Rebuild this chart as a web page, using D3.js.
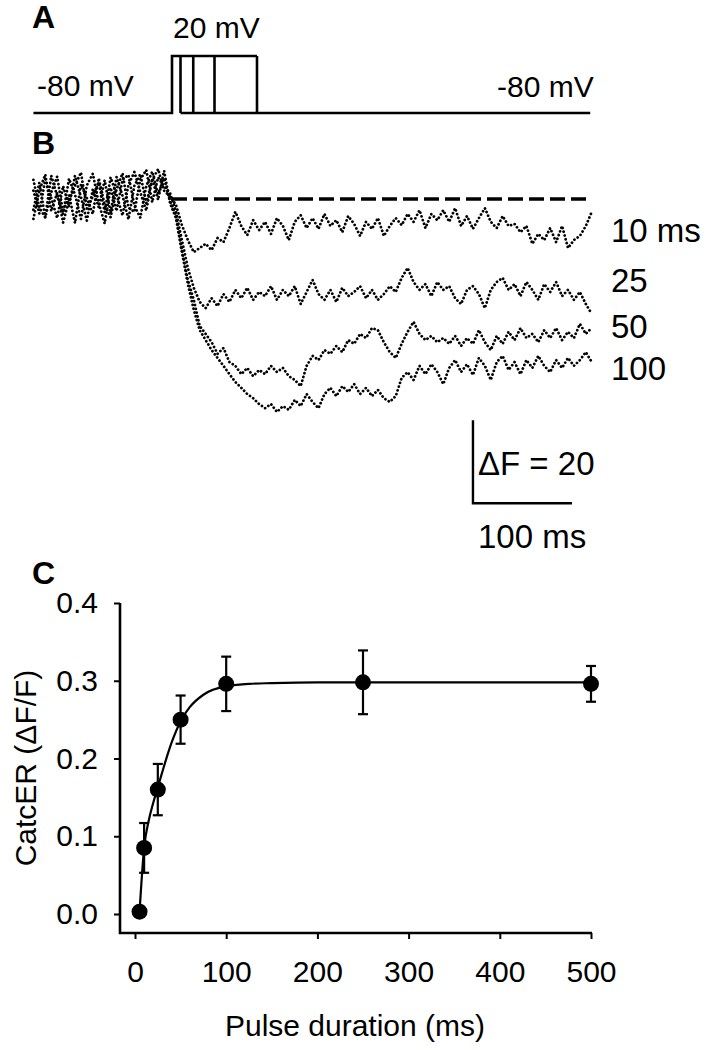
<!DOCTYPE html>
<html><head><meta charset="utf-8">
<script src="https://cdn.jsdelivr.net/npm/d3@7"></script>
<style>
body{margin:0;background:#fff}
svg{display:block}
text{font-family:"Liberation Sans",Arial,Helvetica,sans-serif;fill:#000}
</style>
</head><body>
<svg id="chart" width="715" height="1050"></svg>
<script>
// ---------------- DATA ----------------
// Panel A: voltage protocol
const holdingPotential = -80;
const testPotential = 20;
const pulseDurations = [10, 25, 50, 100];           // ms
const protocolExtent = [-163, 492];                 // ms shown
const holdingLabel = "-80 mV";
const testLabel = "20 mV";

// Panel B: CatchER fluorescence traces (ΔF), sampled times (ms from pulse onset)
const traceTimes = [-140,-134,-128,-122,-116,-110,-104,-98,-92,-86,-80,-74,-68,-62,-56,-50,-44,-38,-32,-26,-20,-14,-8,-2,
  4,10,16,22,28,34,40,46,52,58,64,70,76,82,88,94,100,106,112,118,124,130,136,142,148,154,160,166,172,178,184,190,196,
  202,208,214,220,226,232,238,244,250,256,262,268,274,280,286,292,298,304,310,316,322,328,334,340,346,352,358,364,370,
  376,382,388,394,400,406,412,418,424];
const trace10 = [2.0,-3.5,4.8,0.3,-4.6,3.1,-1.8,5.6,0.5,-5.2,2.4,-2.0,4.5,-3.4,5.3,0.8,-4.9,3.2,6.0,-1.0,4.6,7.2,2.0,0.6,
  -1.4,-6.3,-9.9,-12.8,-11.8,-10.8,-12.3,-9.4,-10.4,-7.0,-3.1,-6.5,-8.7,-5.1,-7.5,-5.5,-8.4,-4.6,-6.5,-9.9,-5.5,-3.9,-7.0,
  -4.6,-7.2,-3.6,-6.5,-5.1,-8.0,-4.1,-6.0,-8.9,-5.5,-7.2,-4.6,-8.9,-6.5,-4.6,-6.3,-3.6,-5.5,-2.7,-7.0,-3.6,-5.1,-2.7,-5.5,
  -2.2,-6.5,-4.1,-7.2,-4.6,-2.2,-5.5,-7.0,-4.1,-6.5,-6.0,-8.0,-6.5,-10.8,-8.4,-9.9,-7.0,-10.4,-6.5,-11.8,-9.9,-8.9,-6.5,-3.1];
const trace25 = [-2.6,3.9,-4.5,1.6,5.4,-3.2,0.9,-5.8,3.5,0.2,-3.6,5.0,-1.4,-4.4,2.3,6.2,-2.1,-3.1,4.7,7.0,-0.8,5.2,3.0,1.5,
  -3.1,-9.9,-16.6,-21.4,-24.8,-26.3,-23.9,-25.8,-22.9,-24.8,-21.9,-23.9,-21.4,-24.3,-22.4,-23.4,-21.0,-24.3,-21.9,-23.4,
  -21.0,-25.3,-22.4,-19.5,-22.9,-24.3,-21.9,-24.8,-21.4,-23.4,-22.4,-21.0,-23.9,-21.9,-24.3,-22.9,-21.0,-22.4,-19.0,-16.6,
  -20.0,-21.9,-20.5,-23.4,-20.0,-21.9,-21.0,-23.9,-25.3,-21.9,-21.0,-22.9,-26.3,-21.9,-20.0,-19.0,-21.9,-20.5,-23.4,-20.0,
  -21.9,-24.3,-20.5,-22.4,-20.0,-23.4,-21.9,-24.3,-22.4,-25.3,-27.7];
const trace50 = [4.6,-2.1,-4.4,5.6,0.7,-3.6,4.9,1.1,-4.8,3.3,6.1,-1.0,-5.9,2.7,-2.9,4.6,5.8,-1.6,-4.5,3.1,6.6,1.2,5.0,-0.5,
  -3.9,-12.3,-19.5,-24.3,-30.6,-32.5,-34.5,-37.3,-35.9,-39.3,-40.2,-42.2,-40.7,-42.7,-41.2,-42.2,-40.2,-41.7,-40.7,-42.7,
  -43.6,-45.1,-40.2,-37.8,-38.8,-36.4,-37.3,-35.4,-36.9,-34.0,-34.9,-32.5,-33.5,-31.1,-31.6,-34.5,-36.9,-38.3,-34.9,-32.0,
  -29.6,-32.5,-34.0,-33.0,-34.5,-33.5,-34.9,-33.0,-35.4,-33.5,-34.9,-31.6,-34.5,-36.4,-33.0,-34.9,-32.0,-34.0,-31.1,-33.5,
  -32.5,-34.5,-31.6,-33.5,-31.1,-34.0,-32.0,-33.5,-30.1,-32.5,-31.1];
const trace100 = [-4.8,2.0,5.9,-2.9,1.5,-5.7,-0.3,3.2,6.4,-2.3,0.6,4.0,-3.2,5.2,1.1,-4.0,3.4,6.5,1.6,-2.8,4.9,-0.2,6.8,-1.0,
  -4.6,-12.8,-20.5,-26.7,-31.6,-34.0,-36.4,-38.3,-40.2,-42.2,-44.1,-45.5,-47.0,-48.0,-49.4,-50.4,-49.4,-51.3,-49.9,-50.8,
  -48.4,-49.9,-47.0,-48.9,-50.4,-47.0,-45.5,-47.5,-45.1,-46.5,-44.6,-47.0,-45.5,-47.5,-46.0,-48.0,-48.9,-47.5,-43.1,-41.7,
  -43.6,-40.2,-42.2,-39.8,-41.7,-44.6,-40.7,-38.8,-41.7,-39.8,-42.4,-38.3,-40.2,-43.6,-39.3,-37.8,-41.2,-39.3,-42.2,-38.8,
  -40.7,-37.8,-40.2,-41.7,-38.8,-40.7,-38.3,-40.2,-38.8,-36.9,-39.3];
const traceLabels = ["10 ms", "25", "50", "100"];
const baselineExtent = [0, 420];                    // ms for dashed baseline
const scaleBarTime = 100, scaleBarDF = 20;
const scaleBarOrigin = [304, -73.3];                // [ms, ΔF]

// Panel C: CatchER ΔF/F vs pulse duration
const durations = [5, 10, 25, 50, 100, 250, 500];
const meanDFF   = [0.003, 0.085, 0.160, 0.250, 0.296, 0.298, 0.296];
const semDFF    = [0.0, 0.032, 0.033, 0.031, 0.035, 0.041, 0.023];
const fitTimes  = [5, 10, 15, 20, 25, 30, 40, 50, 60, 75, 100, 125, 150, 200, 300, 500];
const fitValues = [0.003, 0.085, 0.120, 0.143, 0.163, 0.183, 0.220, 0.248, 0.266, 0.282, 0.293, 0.296, 0.297, 0.298, 0.298, 0.298];
const xTicksC = [0, 100, 200, 300, 400, 500];
const yTicksC = [0.0, 0.1, 0.2, 0.3, 0.4];
const xLabelC = "Pulse duration (ms)";
const yLabelC = "CatcER (\u0394F/F)";

// ---------------- DRAWING ----------------
const svg = d3.select("#chart");
const panelLabel = (t, x, y) => svg.append("text").attr("x", x).attr("y", y)
  .attr("font-size", 32).attr("font-weight", "bold").text(t);

// ===== Panel A =====
panelLabel("A", 32, 28);
const xA = d3.scaleLinear().domain([0, 100]).range([172, 257]);
const yA = d3.scaleLinear().domain([holdingPotential, testPotential]).range([113, 56]);
const gA = svg.append("g").attr("fill", "none").attr("stroke", "#000").attr("stroke-width", 2.6);
const maxDur = d3.max(pulseDurations);
gA.append("path").attr("d",
  `M${xA(protocolExtent[0])},${yA(holdingPotential)}H${xA(0)}V${yA(testPotential)}H${xA(maxDur)}`);
pulseDurations.forEach(d => {
  gA.append("line").attr("x1", xA(d)).attr("x2", xA(d))
    .attr("y1", yA(testPotential)).attr("y2", yA(holdingPotential));
});
gA.append("line").attr("x1", xA(d3.min(pulseDurations))).attr("x2", xA(protocolExtent[1]))
  .attr("y1", yA(holdingPotential)).attr("y2", yA(holdingPotential));
svg.append("text").attr("x", 37).attr("y", 96).attr("font-size", 30).text(holdingLabel);
svg.append("text").attr("x", 173).attr("y", 38).attr("font-size", 30).text(testLabel);
svg.append("text").attr("x", 497).attr("y", 97).attr("font-size", 30).text(holdingLabel);

// ===== Panel B =====
panelLabel("B", 32, 154);
const xB = d3.scaleLinear().domain([0, 100]).range([172, 271]);
const yB = d3.scaleLinear().domain([0, -20]).range([199, 282]);
const traces = [trace10, trace25, trace50, trace100];
const lineB = d3.line().x(d => xB(d[0])).y(d => yB(d[1]));
const gB = svg.append("g");
traces.forEach(tr => {
  const pts = traceTimes.map((t, i) => [t, tr[i]]);
  gB.append("path").attr("d", lineB(pts)).attr("fill", "none").attr("stroke", "#000")
    .attr("stroke-width", 2.8).attr("stroke-linecap", "round").attr("stroke-dasharray", "0.01,3.9");
});
gB.append("line").attr("x1", xB(baselineExtent[0])).attr("x2", xB(baselineExtent[1]))
  .attr("y1", yB(0)).attr("y2", yB(0)).attr("stroke", "#000").attr("stroke-width", 3.5)
  .attr("stroke-dasharray", "15,6");
const labelY = [242, 292, 338, 380];
traceLabels.forEach((l, i) => svg.append("text").attr("x", 611).attr("y", labelY[i])
  .attr("font-size", 33).text(l));
// scale bar
const [sbT, sbF] = scaleBarOrigin;
gB.append("path").attr("fill", "none").attr("stroke", "#000").attr("stroke-width", 2.4)
  .attr("d", `M${xB(sbT)},${yB(sbF + scaleBarDF)}V${yB(sbF)}H${xB(sbT + scaleBarTime)}`);
svg.append("text").attr("x", 478).attr("y", 475).attr("font-size", 33).text("\u0394F = " + scaleBarDF);
svg.append("text").attr("x", 478).attr("y", 548).attr("font-size", 33).text(scaleBarTime + " ms");

// ===== Panel C =====
panelLabel("C", 32, 584);
const xC = d3.scaleLinear().domain([0, 500]).range([135, 591]);
const yC = d3.scaleLinear().domain([0, 0.4]).range([914, 603]);
const axisX0 = 120, axisY0 = 933;
const gC = svg.append("g");
const yAx = gC.append("g").attr("transform", `translate(${axisX0},0)`)
  .call(d3.axisLeft(yC).tickValues(yTicksC).tickFormat(d3.format(".1f")).tickSize(6).tickPadding(16));
const xAx = gC.append("g").attr("transform", `translate(0,${axisY0})`)
  .call(d3.axisBottom(xC).tickValues(xTicksC).tickFormat(d3.format("d")).tickSize(6).tickPadding(22));
[yAx, xAx].forEach(a => {
  a.select(".domain").remove();
  a.selectAll(".tick line").attr("stroke", "#000").attr("stroke-width", 2);
  a.selectAll(".tick text").attr("font-size", 30).attr("font-family", "'Liberation Sans',Arial,sans-serif").attr("fill", "#000");
});
gC.append("path").attr("fill", "none").attr("stroke", "#000").attr("stroke-width", 2.6)
  .attr("d", `M${axisX0},${yC(0.4)}V${axisY0}H${xC(500) + 1}`);
gC.append("path").datum(fitTimes.map((t, i) => [t, fitValues[i]]))
  .attr("d", d3.line().x(d => xC(d[0])).y(d => yC(d[1])).curve(d3.curveMonotoneX))
  .attr("fill", "none").attr("stroke", "#000").attr("stroke-width", 2.2);
const eb = gC.append("g").attr("stroke", "#000").attr("stroke-width", 2.2);
durations.forEach((d, i) => {
  if (semDFF[i] <= 0) return;
  const x = xC(d), y1 = yC(meanDFF[i] + semDFF[i]), y2 = yC(meanDFF[i] - semDFF[i]);
  eb.append("line").attr("x1", x).attr("x2", x).attr("y1", y1).attr("y2", y2);
  eb.append("line").attr("x1", x - 5).attr("x2", x + 5).attr("y1", y1).attr("y2", y1);
  eb.append("line").attr("x1", x - 5).attr("x2", x + 5).attr("y1", y2).attr("y2", y2);
});
gC.selectAll("circle.pt").data(durations).join("circle").attr("class", "pt")
  .attr("cx", d => xC(d)).attr("cy", (d, i) => yC(meanDFF[i])).attr("r", 8).attr("fill", "#000");
svg.append("text").attr("transform", "translate(36,768) rotate(-90)").attr("text-anchor", "middle")
  .attr("font-size", 30).text(yLabelC);
svg.append("text").attr("x", 355).attr("y", 1036).attr("text-anchor", "middle")
  .attr("font-size", 30).text(xLabelC);
</script>
</body></html>
